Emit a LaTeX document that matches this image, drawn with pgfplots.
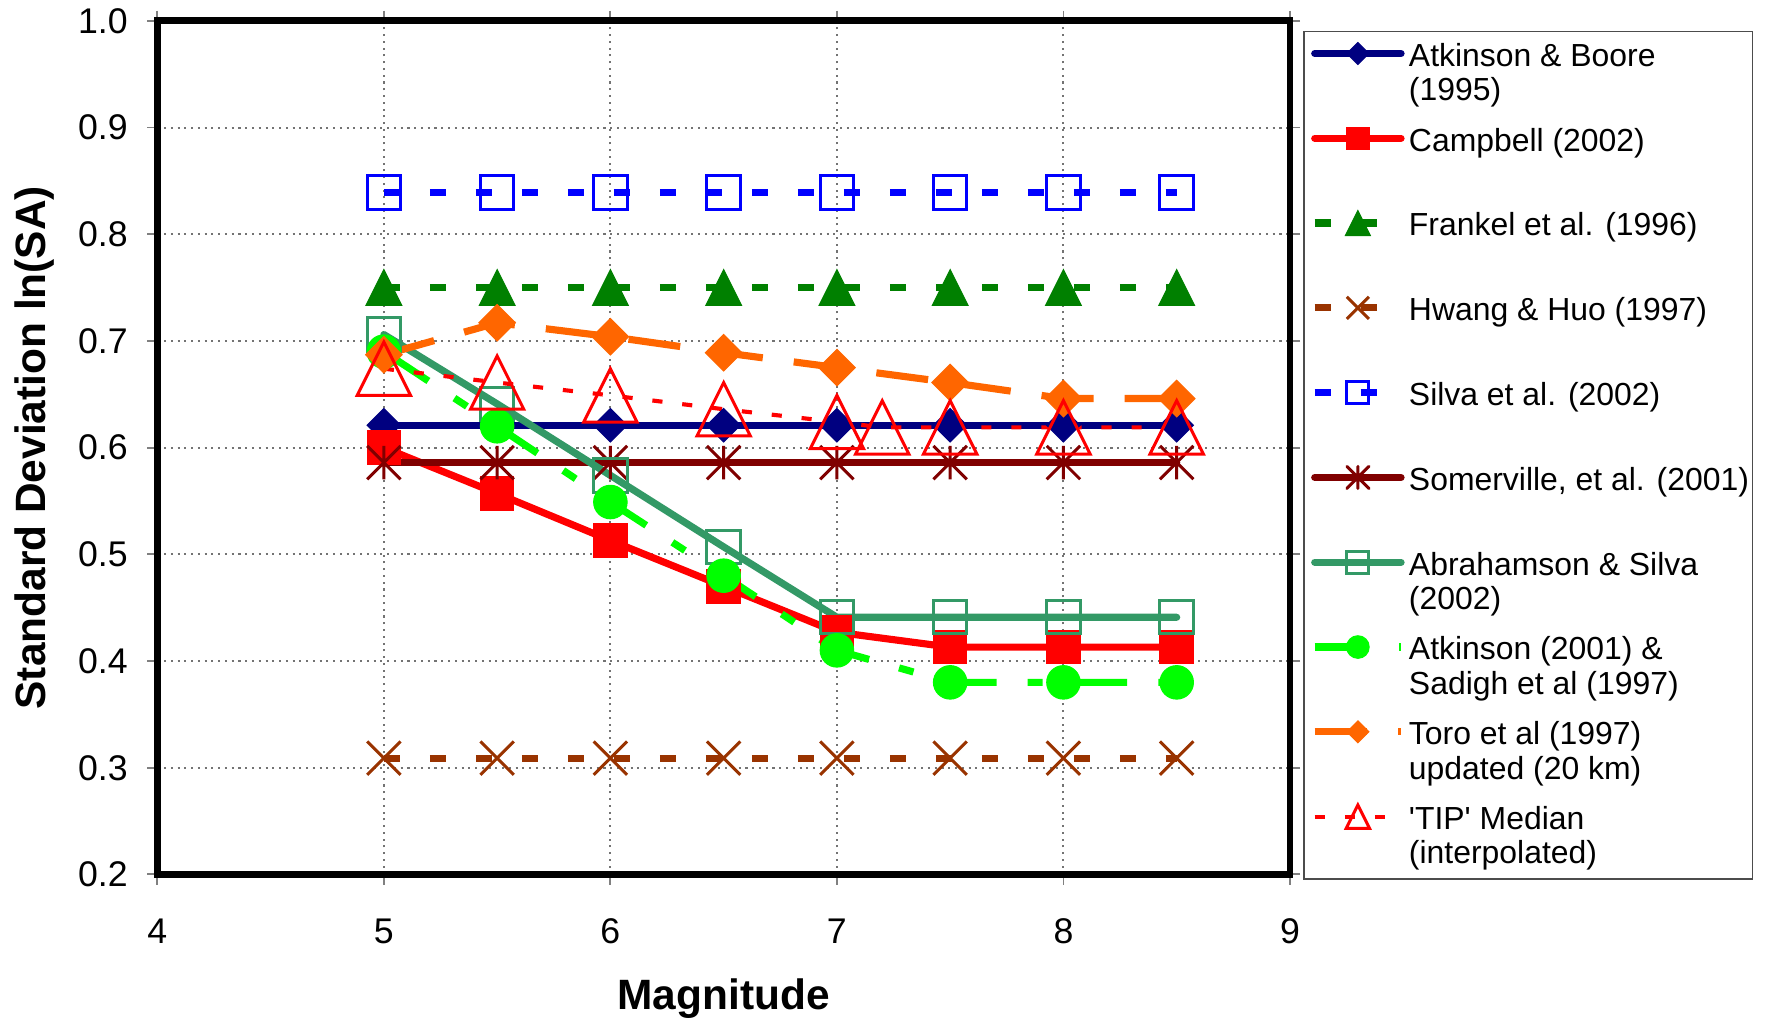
\documentclass[border=0pt]{standalone}
\usepackage{fontspec}
\setmainfont{Liberation Sans}[BoldFont={Liberation Sans Bold}]
\usepackage{pgfplots}
\usepackage{pgfplotstable}
\pgfplotsset{compat=1.18}

\definecolor{cNavy}{RGB}{0,0,128}
\definecolor{cRed}{RGB}{255,0,0}
\definecolor{cGreen}{RGB}{0,128,0}
\definecolor{cBrown}{RGB}{153,51,0}
\definecolor{cBlue}{RGB}{0,0,255}
\definecolor{cMaroon}{RGB}{128,0,0}
\definecolor{cSea}{RGB}{51,153,102}
\definecolor{cLime}{RGB}{0,255,0}
\definecolor{cOrange}{RGB}{255,102,0}

\pgfdeclareplotmark{mytri}{%
  \pgfpathmoveto{\pgfqpoint{0pt}{\pgfplotmarksize}}%
  \pgfpathlineto{\pgfqpoint{\pgfplotmarksize}{-\pgfplotmarksize}}%
  \pgfpathlineto{\pgfqpoint{-\pgfplotmarksize}{-\pgfplotmarksize}}%
  \pgfpathclose\pgfusepathqstroke}
\pgfdeclareplotmark{mytrif}{%
  \pgfpathmoveto{\pgfqpoint{0pt}{\pgfplotmarksize}}%
  \pgfpathlineto{\pgfqpoint{\pgfplotmarksize}{-\pgfplotmarksize}}%
  \pgfpathlineto{\pgfqpoint{-\pgfplotmarksize}{-\pgfplotmarksize}}%
  \pgfpathclose\pgfusepathqfillstroke}
\pgfdeclareplotmark{mydia}{%
  \pgfpathmoveto{\pgfqpoint{0pt}{\pgfplotmarksize}}%
  \pgfpathlineto{\pgfqpoint{\pgfplotmarksize}{0pt}}%
  \pgfpathlineto{\pgfqpoint{0pt}{-\pgfplotmarksize}}%
  \pgfpathlineto{\pgfqpoint{-\pgfplotmarksize}{0pt}}%
  \pgfpathclose\pgfusepathqfillstroke}
\pgfdeclareplotmark{myx}{%
  \pgfpathmoveto{\pgfqpoint{-\pgfplotmarksize}{-\pgfplotmarksize}}%
  \pgfpathlineto{\pgfqpoint{\pgfplotmarksize}{\pgfplotmarksize}}%
  \pgfpathmoveto{\pgfqpoint{-\pgfplotmarksize}{\pgfplotmarksize}}%
  \pgfpathlineto{\pgfqpoint{\pgfplotmarksize}{-\pgfplotmarksize}}%
  \pgfusepathqstroke}
\pgfdeclareplotmark{myast}{%
  \pgfpathmoveto{\pgfqpoint{-\pgfplotmarksize}{-\pgfplotmarksize}}%
  \pgfpathlineto{\pgfqpoint{\pgfplotmarksize}{\pgfplotmarksize}}%
  \pgfpathmoveto{\pgfqpoint{-\pgfplotmarksize}{\pgfplotmarksize}}%
  \pgfpathlineto{\pgfqpoint{\pgfplotmarksize}{-\pgfplotmarksize}}%
  \pgfpathmoveto{\pgfqpoint{0pt}{-\pgfplotmarksize}}%
  \pgfpathlineto{\pgfqpoint{0pt}{\pgfplotmarksize}}%
  \pgfusepathqstroke}

\pgfplotsset{
  sAB/.style={color=cNavy, line width=1.9pt, line cap=round},
  sCB/.style={color=cRed, line width=1.9pt, line cap=round},
  sFR/.style={color=cGreen, line width=1.9pt, dash pattern=on 4.3pt off 7.95pt},
  sHW/.style={color=cBrown, line width=1.9pt, dash pattern=on 4.3pt off 7.95pt},
  sSV/.style={color=cBlue, line width=1.9pt, dash pattern=on 4.3pt off 7.95pt},
  sSO/.style={color=cMaroon, line width=1.9pt, line cap=round},
  sAS/.style={color=cSea, line width=1.9pt, line cap=round},
  sAT/.style={color=cLime, line width=1.9pt, dash pattern=on 14.2pt off 8.3pt on 4pt off 8.3pt},
  sTO/.style={color=cOrange, line width=1.9pt, dash pattern=on 13.9pt off 8.3pt},
  sTI/.style={color=cRed, line width=1.1pt, dash pattern=on 2.7pt off 5.3pt},
  mAB/.style={mark=mydia, mark size=4.45pt, mark options={solid, fill=cNavy, draw=cNavy, line width=0.3pt}},
  mCB/.style={mark=square*, mark size=4.45pt, mark options={solid, fill=cRed, draw=cRed, line width=0.3pt}},
  mFR/.style={mark=mytrif, mark size=4.75pt, mark options={solid, fill=cGreen, draw=cGreen, line width=0.3pt}},
  mHW/.style={mark=myx, mark size=4.45pt, mark options={solid, draw=cBrown, line width=0.8pt}},
  mSV/.style={mark=square, mark size=4.45pt, mark options={solid, draw=cBlue, line width=0.8pt}},
  mSO/.style={mark=myast, mark size=4.45pt, mark options={solid, draw=cMaroon, line width=0.8pt}},
  mAS/.style={mark=square, mark size=4.45pt, mark options={solid, draw=cSea, line width=0.8pt}},
  mAT/.style={mark=*, mark size=4.45pt, mark options={solid, fill=cLime, draw=cLime, line width=0.3pt}},
  mTO/.style={mark=mydia, mark size=4.85pt, mark options={solid, fill=cOrange, draw=cOrange, line width=0.3pt}},
  mTI/.style={mark=mytri, mark size=7.1pt, mark options={solid, draw=cRed, line width=0.8pt}},
}

\newcommand{\legtxt}[2]{\raisebox{0pt}[8.95pt][12.85pt]{\makebox[88.6pt][l]{\begin{tabular}[t]{@{}l@{}}#1\\#2\end{tabular}}}}

\pgfplotstableread{
x y
5 0.621
5.5 0.621
6 0.621
6.5 0.621
7 0.621
7.5 0.621
8 0.621
8.5 0.621
}\tAB
\pgfplotstableread{
x y
5 0.600
5.5 0.557
6 0.513
6.5 0.470
7 0.427
7.5 0.413
8 0.413
8.5 0.413
}\tCB
\pgfplotstableread{
x y
5 0.750
5.5 0.750
6 0.750
6.5 0.750
7 0.750
7.5 0.750
8 0.750
8.5 0.750
}\tFR
\pgfplotstableread{
x y
5 0.309
5.5 0.309
6 0.309
6.5 0.309
7 0.309
7.5 0.309
8 0.309
8.5 0.309
}\tHW
\pgfplotstableread{
x y
5 0.839
5.5 0.839
6 0.839
6.5 0.839
7 0.839
7.5 0.839
8 0.839
8.5 0.839
}\tSV
\pgfplotstableread{
x y
5 0.586
5.5 0.586
6 0.586
6.5 0.586
7 0.586
7.5 0.586
8 0.586
8.5 0.586
}\tSO
\pgfplotstableread{
x y
5 0.706
5.5 0.641
6 0.574
6.5 0.507
7 0.441
7.5 0.441
8 0.441
8.5 0.441
}\tAS
\pgfplotstableread{
x y
5 0.690
5.5 0.620
6 0.549
6.5 0.480
7 0.410
7.5 0.380
8 0.380
8.5 0.380
}\tAT
\pgfplotstableread{
x y
5 0.687
5.5 0.717
6 0.704
6.5 0.689
7 0.675
7.5 0.661
8 0.646
8.5 0.646
}\tTO
\pgfplotstableread{
x y
5 0.674
5.5 0.661
6 0.649
6.5 0.636
7 0.624
7.2 0.619
7.5 0.619
8 0.619
8.5 0.619
}\tTI

\begin{document}
\begin{tikzpicture}
\begin{axis}[
  scale only axis, width=301.6pt, height=227.3pt,
  xmin=4, xmax=9, ymin=0.2, ymax=1,
  xtick={4,5,6,7,8,9},
  ytick={0.2,0.3,0.4,0.5,0.6,0.7,0.8,0.9,1.0},
  /pgf/number format/assume math mode=true,
  yticklabel style={/pgf/number format/fixed, /pgf/number format/fixed zerofill, /pgf/number format/precision=1},
  tick label style={font=\fontsize{9.5}{11}\selectfont, inner sep=0pt},
  xticklabel style={anchor=base, yshift=-15.7pt},
  yticklabel style={anchor=east, xshift=-5.0pt},
  tick align=outside, major tick length=2.7pt,
  tick style={black!50, line width=0.5pt},
  axis line style={line width=1.8pt, black},
  grid=major,
  major grid style={black!55, line width=0.55pt, dash pattern=on 0.55pt off 1.25pt},
  xlabel={Magnitude}, ylabel={Standard Deviation ln(SA)},
  every axis x label/.style={at={(axis description cs:0.5,-0.1588)}, anchor=base, font=\bfseries\fontsize{11.3}{13}\selectfont},
  every axis y label/.style={at={(axis description cs:-0.108,0.5)}, anchor=center, rotate=90, font=\bfseries\fontsize{11.3}{13}\selectfont},
  legend style={at={(axis description cs:1.01174,0.9884)}, anchor=north west,
    draw=black!70, fill=white, inner xsep=2.85pt, inner ysep=0.3pt,
    row sep=0.78pt, column sep=2.1pt,
    nodes={inner sep=0pt, text depth=},
    cells={anchor=base west},
    font=\fontsize{8.5}{9.2}\selectfont},
  legend image code/.code={%
    \begin{pgfinterruptboundingbox}%
    \draw[mark repeat=2,mark phase=2] plot coordinates {(0pt,3.4pt) (11.5pt,3.4pt) (23pt,3.4pt)};%
    \end{pgfinterruptboundingbox}%
    \pgfpathrectangle{\pgfpoint{0pt}{0pt}}{\pgfpoint{23pt}{3.4pt}}%
    \pgfusepath{use as bounding box}%
  },
]
% lines
\addplot[sAB, no markers, forget plot] table {\tAB};
\addplot[sCB, no markers, forget plot] table {\tCB};
\addplot[sFR, no markers, forget plot] table {\tFR};
\addplot[sHW, no markers, forget plot] table {\tHW};
\addplot[sSV, no markers, forget plot] table {\tSV};
\addplot[sSO, no markers, forget plot] table {\tSO};
\addplot[sAS, no markers, forget plot] table {\tAS};
\addplot[sAT, no markers, forget plot] table {\tAT};
\addplot[sTO, no markers, forget plot] table {\tTO};
\addplot[sTI, no markers, forget plot] table {\tTI};
% markers
\addplot[only marks, mAB, forget plot] table {\tAB};
\addplot[only marks, mCB, forget plot] table {\tCB};
\addplot[only marks, mFR, forget plot] table {\tFR};
\addplot[only marks, mHW, forget plot] table {\tHW};
\addplot[only marks, mSV, forget plot] table {\tSV};
\addplot[only marks, mSO, forget plot] table {\tSO};
\addplot[only marks, mAS, forget plot] table {\tAS};
\addplot[only marks, mAT, forget plot] table {\tAT};
\addplot[only marks, mTO, forget plot] table {\tTO};
\addplot[only marks, mTI, forget plot] table {\tTI};
% legend
\addlegendimage{sAB, mAB, mark size=2.9pt}
\addlegendentry{\legtxt{Atkinson \& Boore}{(1995)}}
\addlegendimage{sCB, mCB, mark size=2.95pt}
\addlegendentry{\legtxt{Campbell (2002)}{}}
\addlegendimage{sFR, mFR, mark size=3.3pt}
\addlegendentry{\legtxt{Frankel et al. (1996)}{}}
\addlegendimage{sHW, mHW, mark size=2.95pt}
\addlegendentry{\legtxt{Hwang \& Huo (1997)}{}}
\addlegendimage{sSV, mSV, mark size=2.95pt}
\addlegendentry{\legtxt{Silva et al. (2002)}{}}
\addlegendimage{sSO, mSO, mark size=2.95pt}
\addlegendentry{\legtxt{Somerville, et al. (2001)}{}}
\addlegendimage{sAS, mAS, mark size=2.95pt}
\addlegendentry{\legtxt{Abrahamson \& Silva}{(2002)}}
\addlegendimage{sAT, mAT, mark size=3pt}
\addlegendentry{\legtxt{Atkinson (2001) \&}{Sadigh et al (1997)}}
\addlegendimage{sTO, mTO, mark size=2.9pt}
\addlegendentry{\legtxt{Toro et al (1997)}{updated (20 km)}}
\addlegendimage{sTI, mTI, mark size=3.1pt}
\addlegendentry{\legtxt{\textquotesingle TIP\textquotesingle\ Median}{(interpolated)}}
\coordinate (bl) at (rel axis cs:0,0);
\coordinate (tr) at (rel axis cs:1,1);
\end{axis}
\pgfresetboundingbox
\path ([shift={(-41.9pt,-39.06pt)}]bl) rectangle ([shift={(126.5pt,5.55pt)}]tr);
\end{tikzpicture}
\end{document}
